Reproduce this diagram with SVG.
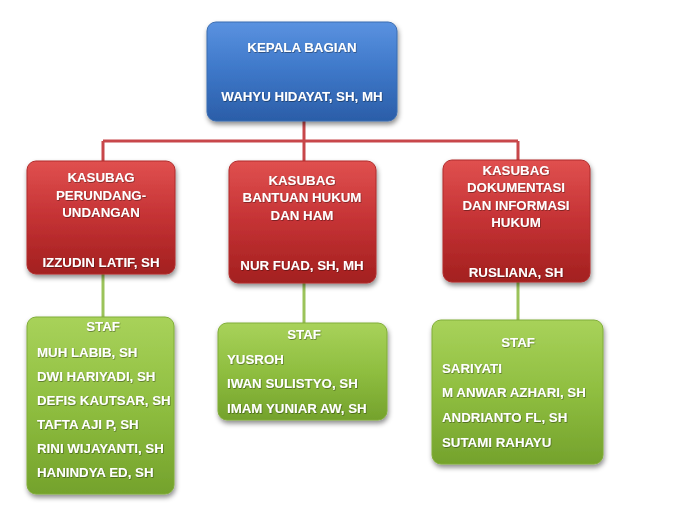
<svg xmlns="http://www.w3.org/2000/svg" width="675" height="519" viewBox="0 0 675 519">
<defs>
<linearGradient id="gBlue" x1="0" y1="0" x2="0" y2="1">
<stop offset="0" stop-color="#5a92e0"/><stop offset="0.5" stop-color="#3d77c8"/><stop offset="1" stop-color="#2b5ea8"/>
</linearGradient>
<linearGradient id="gRed" x1="0" y1="0" x2="0" y2="1">
<stop offset="0" stop-color="#e0504f"/><stop offset="0.5" stop-color="#c43234"/><stop offset="1" stop-color="#a3201f"/>
</linearGradient>
<linearGradient id="gGreen" x1="0" y1="0" x2="0" y2="1">
<stop offset="0" stop-color="#a8d25a"/><stop offset="0.5" stop-color="#8fbe40"/><stop offset="1" stop-color="#74a22c"/>
</linearGradient>
<filter id="sh" x="-10%" y="-10%" width="125%" height="130%">
<feDropShadow dx="1" dy="3" stdDeviation="2.5" flood-color="#000" flood-opacity="0.45"/>
</filter>
<filter id="ts" x="-5%" y="-20%" width="110%" height="150%">
<feDropShadow dx="0.6" dy="0.8" stdDeviation="0.4" flood-color="#000" flood-opacity="0.45"/>
</filter>
</defs>
<style>
text{font-family:"Liberation Sans",Arial,sans-serif;font-weight:bold;font-size:13.3px;fill:#ffffff;filter:url(#ts)}
.c{text-anchor:middle}
.box{filter:url(#sh);stroke-width:1}
.blue{fill:url(#gBlue);stroke:#3a6cb0}
.red{fill:url(#gRed);stroke:#b02c2c}
.green{fill:url(#gGreen);stroke:#80ad38}
.lr{stroke:#c8474a;stroke-width:3;fill:none}
.lg{stroke:#9bc35a;stroke-width:3;fill:none}
</style>
<rect width="675" height="519" fill="#ffffff"/>
<g id="connectors">
<path class="lr" d="M304 121V161M103 141H518M103 141V161M518 141V160"/>
<path class="lg" d="M103 274V317M304 283V323M518 282V320"/>
</g>
<g id="kepala">
<rect class="box blue" x="207" y="22" width="190" height="99" rx="9"/>
<text class="c" x="302" y="52">KEPALA BAGIAN</text>
<text class="c" x="302" y="101">WAHYU HIDAYAT, SH, MH</text>
</g>
<g id="kasubag1">
<rect class="box red" x="27" y="161" width="148" height="113" rx="9"/>
<text class="c" x="101" y="182">KASUBAG</text>
<text class="c" x="101" y="200">PERUNDANG-</text>
<text class="c" x="101" y="217">UNDANGAN</text>
<text class="c" x="101" y="267">IZZUDIN LATIF, SH</text>
</g>
<g id="kasubag2">
<rect class="box red" x="229" y="161" width="147" height="122" rx="9"/>
<text class="c" x="302" y="185">KASUBAG</text>
<text class="c" x="302" y="202">BANTUAN HUKUM</text>
<text class="c" x="302" y="220">DAN HAM</text>
<text class="c" x="302" y="270">NUR FUAD, SH, MH</text>
</g>
<g id="kasubag3">
<rect class="box red" x="443" y="160" width="147" height="122" rx="9"/>
<text class="c" x="516" y="175">KASUBAG</text>
<text class="c" x="516" y="192">DOKUMENTASI</text>
<text class="c" x="516" y="210">DAN INFORMASI</text>
<text class="c" x="516" y="227">HUKUM</text>
<text class="c" x="516" y="277">RUSLIANA, SH</text>
</g>
<g id="staf1">
<rect class="box green" x="27" y="317" width="147" height="177" rx="9"/>
<text class="c" x="103" y="331">STAF</text>
<text x="37" y="357">MUH LABIB, SH</text>
<text x="37" y="381">DWI HARIYADI, SH</text>
<text x="37" y="405">DEFIS KAUTSAR, SH</text>
<text x="37" y="429">TAFTA AJI P, SH</text>
<text x="37" y="453">RINI WIJAYANTI, SH</text>
<text x="37" y="477">HANINDYA ED, SH</text>
</g>
<g id="staf2">
<rect class="box green" x="218" y="323" width="169" height="97" rx="9"/>
<text class="c" x="304" y="339">STAF</text>
<text x="227" y="364">YUSROH</text>
<text x="227" y="388">IWAN SULISTYO, SH</text>
<text x="227" y="413">IMAM YUNIAR AW, SH</text>
</g>
<g id="staf3">
<rect class="box green" x="432" y="320" width="171" height="144" rx="9"/>
<text class="c" x="518" y="347">STAF</text>
<text x="442" y="373">SARIYATI</text>
<text x="442" y="397">M ANWAR AZHARI, SH</text>
<text x="442" y="422">ANDRIANTO FL, SH</text>
<text x="442" y="447">SUTAMI RAHAYU</text>
</g>
</svg>
